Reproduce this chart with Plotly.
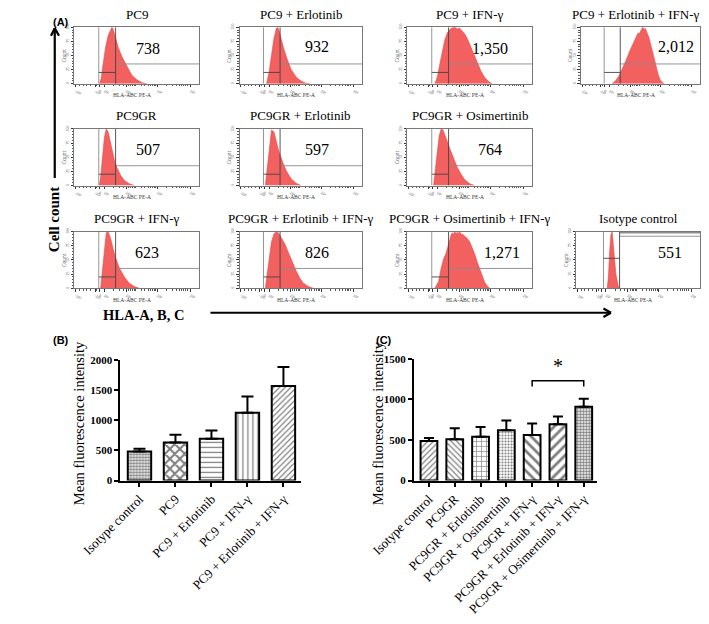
import math
import plotly.graph_objects as go

# The page body adds an 8 px margin, so the figure is drawn 8 px smaller on each side
# and all positions below are given in page pixels (0..709, 0..624).
PAGE_W, PAGE_H = 709, 624
OFF = 8
W, H = PAGE_W - 2 * OFF, PAGE_H - 2 * OFF
SERIF = "Liberation Serif"
SANS = "Liberation Sans"

# ---------------- Panel A: flow-cytometry histograms ----------------
hist_titles = ["PC9", "PC9 + Erlotinib", "PC9 + IFN-γ", "PC9 + Erlotinib + IFN-γ",
               "PC9GR", "PC9GR + Erlotinib", "PC9GR + Osimertinib",
               "PC9GR + IFN-γ", "PC9GR + Erlotinib + IFN-γ", "PC9GR + Osimertinib + IFN-γ",
               "Isotype control"]
hist_mfi = ["738", "932", "1,350", "2,012", "507", "597", "764", "623", "826", "1,271", "551"]

pc9_x = [20, 21.5, 23, 25, 27, 29, 30, 31, 33, 35, 38, 42, 46, 50, 54, 58]
pc9_y = [0, 10, 35, 65, 85, 97, 100, 97, 80, 65, 48, 30, 15, 7, 2, 0]
pc9_erl_x = [22, 24, 26, 28, 30, 31, 32, 34, 36, 39, 42, 46, 50, 54, 57]
pc9_erl_y = [0, 20, 50, 80, 98, 100, 95, 78, 62, 42, 25, 12, 5, 1, 0]
pc9_ifn_x = [22, 24, 26, 28, 30, 32, 34, 36, 38, 40, 42, 44, 46, 48, 50, 53, 56, 59, 62, 65, 68]
pc9_ifn_y = [0, 12, 35, 60, 78, 90, 96, 99, 100, 97, 98, 93, 88, 80, 70, 54, 38, 22, 11, 4, 0]
pc9_erl_ifn_x = [26, 29, 32, 35, 38, 41, 43, 45, 47, 48, 49, 50, 51, 52, 53, 54, 55, 57, 59, 61, 63, 65, 67, 70]
pc9_erl_ifn_y = [0, 5, 14, 27, 42, 58, 68, 78, 86, 90, 88, 94, 97, 100, 95, 98, 92, 82, 66, 48, 30, 15, 5, 0]
gr_x = [20, 21, 22.5, 24, 25.5, 27, 28.5, 30, 32, 34, 37, 40, 44, 48]
gr_y = [0, 15, 50, 85, 100, 95, 80, 62, 45, 32, 18, 9, 3, 0]
gr_erl_x = [21, 22.5, 24, 26, 28, 30, 32, 35, 38, 42, 46, 50]
gr_erl_y = [0, 30, 70, 98, 95, 78, 60, 42, 26, 12, 4, 0]
gr_osi_x = [21, 22.5, 24, 25.5, 27, 28.5, 30, 32, 34, 37, 40, 43, 46, 50, 54]
gr_osi_y = [0, 25, 60, 88, 100, 98, 90, 78, 65, 48, 32, 20, 10, 3, 0]
gr_ifn_x = [21, 22.5, 24, 25.5, 27, 29, 31, 33, 36, 40, 44, 48, 52]
gr_ifn_y = [0, 35, 75, 98, 100, 88, 70, 54, 36, 20, 9, 3, 0]
gr_erl_ifn_x = [21, 22.5, 24, 26, 28, 30, 32, 34, 37, 40, 43, 46, 49, 52, 56, 60]
gr_erl_ifn_y = [0, 25, 55, 82, 96, 100, 97, 90, 78, 62, 46, 31, 18, 9, 3, 0]
gr_osi_ifn_x = [22, 25, 27, 29, 31, 33, 35, 36, 37, 38, 39, 40, 41, 42, 43, 44, 46, 48, 50, 52, 54, 56, 58, 60, 62, 64, 66]
gr_osi_ifn_y = [0, 12, 35, 52, 62, 80, 94, 98, 95, 100, 96, 99, 97, 100, 95, 96, 92, 88, 82, 72, 60, 46, 33, 20, 10, 4, 0]
iso_x = [25, 26, 27, 28, 29, 30, 31, 32, 33, 34, 35]
iso_y = [0, 20, 65, 95, 100, 80, 50, 25, 10, 3, 0]

hist_xs = [pc9_x, pc9_erl_x, pc9_ifn_x, pc9_erl_ifn_x, gr_x, gr_erl_x, gr_osi_x,
           gr_ifn_x, gr_erl_ifn_x, gr_osi_ifn_x, iso_x]
hist_ys = [pc9_y, pc9_erl_y, pc9_ifn_y, pc9_erl_ifn_y, gr_y, gr_erl_y, gr_osi_y,
           gr_ifn_y, gr_erl_ifn_y, gr_osi_ifn_y, iso_y]

gate_left = [19.5] * 10 + [22]
gate_marker = [33] * 10 + [35]
gate_hi = [35] * 10 + [92]
gate_lo = [20] * 10 + [53]

x_tick_vals = [1, 16.5, 20, 24, 41.5, 66.5, 93]
x_tick_text = ["-10³", "-10²", "0", "10²", "10³", "10⁴", "10⁵"]
y_tick_vals = [0, 25, 50, 75, 100]
y_tick_text = ["0", "25", "50", "75", "100"]

# ---------------- Panel B / C: bar charts ----------------
b_cats = ["Isotype control", "PC9", "PC9 + Erlotinib", "PC9 + IFN-γ", "PC9 + Erlotinib + IFN-γ"]
b_mean = [482, 632, 694, 1124, 1565]
b_sem = [46, 125, 135, 270, 316]

c_cats = ["Isotype control", "PC9GR", "PC9GR + Erlotinib", "PC9GR + Osimertinib",
          "PC9GR + IFN-γ", "PC9GR + Erlotinib + IFN-γ", "PC9GR + Osimertinib + IFN-γ"]
c_mean = [486, 510, 541, 619, 560, 693, 910]
c_sem = [39, 136, 120, 120, 144, 97, 98]

sig_pair = ["PC9GR + IFN-γ", "PC9GR + Osimertinib + IFN-γ"]
sig_y = [1160, 1232]

# ---------------- layout geometry (page pixels) ----------------
cols = [(33, 166), (209, 340), (388, 521), (573, 700)]
rows = [(22, 82), (130, 190), (239, 299)]
boxes = [(cols[0], rows[0]), (cols[1], rows[0]), (cols[2], rows[0]), (cols[3], rows[0]),
         (cols[0], rows[1]), (cols[1], rows[1]), (cols[2], rows[1]),
         (cols[0], rows[2]), (cols[1], rows[2]), (cols[2], rows[2]), ((568, 700), rows[2])]
title_x = [99.5, 274.5, 454.5, 632, 99.5, 274.5, 454.5, 99.5, 274.5, 454.5, 634]
mfi_pos = [(59, 63), (63, 66), (66, 63), (80, 65),
           (59, 63), (63, 63), (66, 63),
           (58, 64), (63, 64), (76, 64), (76, 64)]


def px(x):
    return min(max((x - OFF) / W, 0), 1)


def py(y):
    return min(max(1 - (y - OFF) / H, 0), 1)


fig = go.Figure()
layout = dict(
    width=W, height=H, margin=dict(l=0, r=0, t=0, b=0),
    paper_bgcolor="white", plot_bgcolor="white", showlegend=False,
    font=dict(family=SERIF, color="black"),
)
annotations = []
shapes = []

x_minor = []
for base in (24, 41.5, 66.5):
    for k in range(2, 10):
        x_minor.append(base + 25 * math.log10(k))
x_minor += [4, 7, 10, 13, 18]

for i in range(11):
    n = i + 1
    (x0, x1), (y0, y1) = boxes[i]
    layout[f"xaxis{n}"] = dict(
        domain=[px(x0), px(x1)], range=[0, 100], anchor=f"y{n}",
        showline=True, mirror=True, linecolor="#777", linewidth=1,
        ticks="outside", ticklen=2.5, tickwidth=0.8, tickcolor="#333",
        tickmode="array", tickvals=x_tick_vals, ticktext=x_tick_text,
        tickfont=dict(size=4, color="#555", family=SERIF),
        minor=dict(tickmode="array", tickvals=x_minor, ticks="outside", ticklen=1.5,
                   tickcolor="#555", tickwidth=0.6),
        showgrid=False, zeroline=False, fixedrange=True,
    )
    layout[f"yaxis{n}"] = dict(
        domain=[py(y1), py(y0)], range=[0, 100], anchor=f"x{n}",
        showline=True, mirror=True, linecolor="#777", linewidth=1,
        ticks="outside", ticklen=2.5, tickwidth=0.8, tickcolor="#333",
        tickmode="array", tickvals=y_tick_vals, ticktext=y_tick_text, tickangle=-90,
        tickfont=dict(size=4, color="#555", family=SERIF),
        minor=dict(tickmode="array", tickvals=list(range(5, 100, 5)), ticks="outside",
                   ticklen=1.5, tickcolor="#555", tickwidth=0.6),
        showgrid=False, zeroline=False, fixedrange=True,
    )
    fig.add_trace(go.Scatter(
        x=hist_xs[i], y=hist_ys[i], mode="lines", fill="tozeroy",
        line=dict(color="rgb(232,70,70)", width=0.6), fillcolor="rgb(243,96,96)",
        xaxis=f"x{n}", yaxis=f"y{n}", hoverinfo="skip"))
    g, m = gate_left[i], gate_marker[i]
    fig.add_trace(go.Scatter(
        x=[g, g, None, m, 100], y=[0, 100, None, gate_hi[i], gate_hi[i]],
        mode="lines", line=dict(color="#8a8a8a", width=0.9),
        xaxis=f"x{n}", yaxis=f"y{n}", hoverinfo="skip"))
    mx = [m, m, None, g, m]
    my = [0, 100, None, gate_lo[i], gate_lo[i]]
    if i == 10:
        mx += [None, m, 100]
        my += [None, 98, 98]
    fig.add_trace(go.Scatter(
        x=mx, y=my, mode="lines", line=dict(color="#444", width=0.9),
        xaxis=f"x{n}", yaxis=f"y{n}", hoverinfo="skip"))
    annotations.append(dict(
        text=hist_titles[i], xref="paper", yref="paper",
        x=px(title_x[i]), y=py(y0 - 14), xanchor="center", yanchor="middle",
        showarrow=False, font=dict(family=SERIF, size=13, color="black")))
    annotations.append(dict(
        text=hist_mfi[i], xref=f"x{n}", yref=f"y{n}",
        x=mfi_pos[i][0], y=mfi_pos[i][1], xanchor="center", yanchor="middle",
        showarrow=False, font=dict(family=SERIF, size=16, color="black")))
    annotations.append(dict(
        text="HLA-ABC PE-A", xref="paper", yref="paper",
        x=px((x0 + x1) / 2 - 5), y=py(y1 + 12), xanchor="center", yanchor="middle",
        showarrow=False, font=dict(family=SERIF, size=5.5, color="#333")))
    annotations.append(dict(
        text="Count", xref="paper", yref="paper", textangle=-90,
        x=px(x0 - 11), y=py((y0 + y1) / 2), xanchor="center", yanchor="middle",
        showarrow=False, font=dict(family=SERIF, size=5.5, color="#333")))

bar_axis_common = dict(showline=True, linecolor="black", linewidth=2, showgrid=False,
                       zeroline=False, fixedrange=True)

b_shapes = [".", "x", "-", "|", "/"]
b_sizes = [3, 7, 5, 5, 4]
b_solid = [0.55, 0.5, 0.25, 0.25, 0.3]
fig.add_trace(go.Bar(
    x=b_cats, y=b_mean, width=0.65, xaxis="x12", yaxis="y12",
    marker=dict(color="white", line=dict(color="black", width=2),
                pattern=dict(shape=b_shapes, size=b_sizes, solidity=b_solid,
                             fgcolor="black", bgcolor="white", fillmode="overlay")),
    error_y=dict(type="data", symmetric=False, array=b_sem, arrayminus=[0] * 5,
                 color="black", thickness=2, width=6),
    hoverinfo="skip"))

c_shapes = ["/", "\\", "+", ".", "\\", "/", "."]
c_sizes = [4, 4, 5, 3, 7, 7, 3]
c_solid = [0.3, 0.3, 0.25, 0.4, 0.4, 0.4, 0.6]
fig.add_trace(go.Bar(
    x=c_cats, y=c_mean, width=0.65, xaxis="x13", yaxis="y13",
    marker=dict(color="white", line=dict(color="black", width=2),
                pattern=dict(shape=c_shapes, size=c_sizes, solidity=c_solid,
                             fgcolor="black", bgcolor="white", fillmode="overlay")),
    error_y=dict(type="data", symmetric=False, array=c_sem, arrayminus=[0] * 7,
                 color="black", thickness=2, width=5),
    hoverinfo="skip"))

fig.add_trace(go.Scatter(
    x=[sig_pair[0], sig_pair[0], sig_pair[1], sig_pair[1]],
    y=[sig_y[0], sig_y[1], sig_y[1], sig_y[0]],
    mode="lines", line=dict(color="black", width=1.5),
    xaxis="x13", yaxis="y13", hoverinfo="skip"))
annotations.append(dict(text="*", xref="x13", yref="y13", x=5, y=sig_y[1] + 20,
                        xanchor="center", yanchor="bottom", showarrow=False,
                        font=dict(family=SERIF, size=20, color="black")))

layout["xaxis12"] = dict(domain=[px(82), px(275)], range=[-0.53, 4.5], anchor="y12",
                         type="category", ticks="outside", ticklen=4, tickwidth=2,
                         tickcolor="black", tickangle=-45,
                         tickfont=dict(family=SERIF, size=13, color="black"),
                         **bar_axis_common)
layout["yaxis12"] = dict(domain=[py(503), py(375)], range=[0, 2000], anchor="x12",
                         tickvals=[0, 500, 1000, 1500, 2000], ticks="outside", ticklen=4,
                         tickwidth=2, tickcolor="black",
                         tickfont=dict(family=SERIF, size=11, color="black", weight="bold"),
                         **bar_axis_common)
layout["xaxis13"] = dict(domain=[px(395), px(590)], range=[-0.58, 6.51], anchor="y13",
                         type="category", ticks="outside", ticklen=4, tickwidth=2,
                         tickcolor="black", tickangle=-45,
                         tickfont=dict(family=SERIF, size=13, color="black"),
                         **bar_axis_common)
layout["yaxis13"] = dict(domain=[py(503), py(374)], range=[0, 1500], anchor="x13",
                         tickvals=[0, 500, 1000, 1500], ticks="outside", ticklen=4,
                         tickwidth=2, tickcolor="black",
                         tickfont=dict(family=SERIF, size=11, color="black", weight="bold"),
                         **bar_axis_common)

for xc in (38, 357):
    annotations.append(dict(text="Mean fluorescence intensity", xref="paper", yref="paper",
                            textangle=-90, x=px(xc), y=py(442), xanchor="center",
                            yanchor="middle", showarrow=False,
                            font=dict(family=SERIF, size=14.5, color="black")))

for txt, x, y in (("(A)", 0, 0), ("(B)", 0, 345), ("(C)", 352, 345)):
    annotations.append(dict(text=f"<b>{txt}</b>", xref="paper", yref="paper",
                            x=px(x), y=py(y), xanchor="left", yanchor="top",
                            showarrow=False, font=dict(family=SANS, size=11, color="black")))
annotations.append(dict(text="<b>Cell count</b>", xref="paper", yref="paper", textangle=-90,
                        x=px(12), y=py(226), xanchor="center", yanchor="middle",
                        showarrow=False, font=dict(family=SERIF, size=15, color="black")))
annotations.append(dict(text="<b>HLA-A, B, C</b>", xref="paper", yref="paper",
                        x=px(107), y=py(327), xanchor="center", yanchor="middle",
                        showarrow=False, font=dict(family=SERIF, size=14.5, color="black")))


def seg(xa, ya, xb, yb, w=2.2):
    shapes.append(dict(type="line", xref="paper", yref="paper",
                       x0=px(xa), y0=py(ya), x1=px(xb), y1=py(yb),
                       line=dict(color="black", width=w)))


seg(12, 182, 12, 23)
seg(12, 23, 7.5, 31)
seg(12, 23, 16.5, 31)
seg(178, 325, 605, 325)
seg(605, 325, 597, 320.5)
seg(605, 325, 597, 329.5)

layout["annotations"] = annotations
layout["shapes"] = shapes
fig.update_layout(**layout)
fig.write_html("out.html")
